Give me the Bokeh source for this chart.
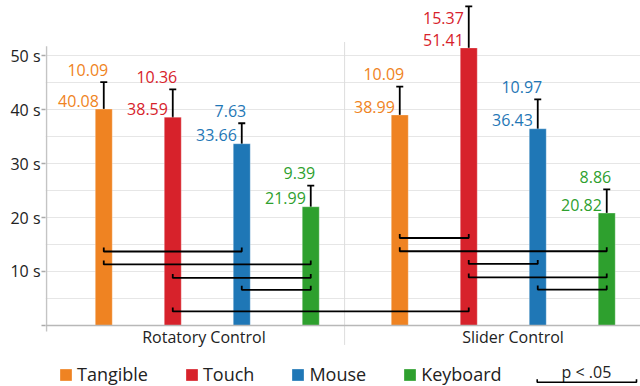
from bokeh.plotting import figure
from bokeh.models import (Range1d, FixedTicker, CustomJSTickFormatter, ColumnDataSource,
                          Whisker, TeeHead, Legend, LegendItem)
from bokeh.core.properties import value
from bokeh.embed import file_html
from bokeh.resources import INLINE

# ---- data -------------------------------------------------------------
groups = ["Rotatory Control", "Slider Control"]
devices = ["Tangible", "Touch", "Mouse", "Keyboard"]
colors = ["#EF8322", "#D7222B", "#1F77B6", "#2EA02E"]

mean_rotatory = [40.08, 38.59, 33.66, 21.99]
mean_slider = [38.99, 51.41, 36.43, 20.82]
sd_rotatory = [10.09, 10.36, 7.63, 9.39]
sd_slider = [10.09, 15.37, 10.97, 8.86]
# half length of each drawn error bar (seconds)
err_rotatory = [5.0, 5.15, 3.8, 3.9]
err_slider = [5.25, 7.7, 5.45, 4.4]

# significant differences (p < .05): (group, device) -> (group, device), bracket level
sig_pairs = [
    ((0, "Tangible"), (0, "Mouse"), 13.7),
    ((0, "Tangible"), (0, "Keyboard"), 11.3),
    ((0, "Touch"), (0, "Keyboard"), 8.8),
    ((0, "Mouse"), (0, "Keyboard"), 6.6),
    ((0, "Touch"), (1, "Touch"), 2.6),
    ((1, "Tangible"), (1, "Touch"), 16.2),
    ((1, "Tangible"), (1, "Keyboard"), 13.75),
    ((1, "Touch"), (1, "Mouse"), 11.4),
    ((1, "Touch"), (1, "Keyboard"), 8.9),
    ((1, "Mouse"), (1, "Keyboard"), 6.65),
]

y_label_ticks = [0, 10, 20, 30, 40, 50]
y_grid_ticks = [5, 10, 15, 20, 25, 30, 35, 40, 45, 50]

# ---- layout constants ---------------------------------------------------
BAR_STEP = 0.2331
BAR_W = 0.0574
FONT = "Open Sans"
TEXT_DARK = "#222222"


def bar_x(g, dev):
    return g + (devices.index(dev) - 1.5) * BAR_STEP


p = figure(frame_width=595, frame_height=386, output_backend="svg", toolbar_location=None,
           title=None,
           x_range=Range1d(-0.5465, 1.4637), y_range=Range1d(-11.3, 60.19),
           x_axis_location=None, min_border_left=45, min_border_right=0,
           min_border_top=0, min_border_bottom=0)
p.outline_line_color = None
p.background_fill_color = "white"
p.xgrid.visible = False
p.ygrid.ticker = FixedTicker(ticks=y_grid_ticks)
p.ygrid.grid_line_color = "#e6e6e6"
p.ygrid.grid_line_width = 1

ax = p.yaxis[0]
ax.ticker = FixedTicker(ticks=y_label_ticks)
ax.formatter = CustomJSTickFormatter(code="return tick == 0 ? '' : tick + ' s';")
ax.axis_line_color = None
ax.major_tick_in = 0
ax.major_tick_out = 4
ax.major_tick_line_color = "#aaaaaa"
ax.major_tick_line_width = 1.5
ax.minor_tick_line_color = None
ax.major_label_standoff = 1
ax.major_label_text_font = FONT
ax.major_label_text_font_size = "16px"
ax.major_label_text_color = TEXT_DARK

# axis lines and group separator
p.segment(x0=[-0.5431], y0=[-1.1], x1=[-0.5431], y1=[51.7], line_color="#c4c4c4", line_width=1.5)
p.segment(x0=[0.464], y0=[-3.6], x1=[0.464], y1=[52.5], line_color="#dddddd", line_width=1)

# ---- bars, error bars, value labels ------------------------------------
means = [mean_rotatory, mean_slider]
sds = [sd_rotatory, sd_slider]
errs = [err_rotatory, err_slider]

MEAN_LIFT = 1.55   # label centre above the bar top
SD_LIFT = 2.3      # label centre above the error bar cap
STACK_GAP = 3.9    # SD label stacked over the mean label

legend_items = []
for i, dev in enumerate(devices):
    xs = [bar_x(g, dev) for g in range(len(groups))]
    m = [means[g][i] for g in range(len(groups))]
    e = [errs[g][i] for g in range(len(groups))]
    sd = [sds[g][i] for g in range(len(groups))]
    src = ColumnDataSource(dict(x=xs, top=m, lower=[a - b for a, b in zip(m, e)],
                                upper=[a + b for a, b in zip(m, e)]))
    r = p.vbar(x="x", top="top", bottom=0, width=BAR_W, source=src,
               fill_color=colors[i], line_color="white", line_alpha=0.3, line_width=1)
    legend_items.append(LegendItem(label=dev, renderers=[r]))

    p.add_layout(Whisker(base="x", lower="lower", upper="upper", source=src,
                         line_color="black", line_width=1.8,
                         upper_head=TeeHead(size=7, line_color="black", line_width=1.8),
                         lower_head=TeeHead(size=7, line_color="black", line_width=1.8)))

    # mean label sits left of the error bar, just above the bar top
    p.text(x=[x - 0.0165 for x in xs], y=[v + MEAN_LIFT for v in m],
           text=[f"{v:.2f}" for v in m], text_align="right", text_baseline="middle",
           text_font=value(FONT), text_font_size="16px", text_color=colors[i])

    # SD label above the error bar, or stacked over the mean label when near the top
    sx, sy = [], []
    for x, v, up in zip(xs, m, src.data["upper"]):
        if up + SD_LIFT > 58:
            sx.append(x - 0.0165)
            sy.append(v + MEAN_LIFT + STACK_GAP)
        else:
            sx.append(x + 0.0152)
            sy.append(up + SD_LIFT)
    p.text(x=sx, y=sy, text=[f"{v:.2f}" for v in sd], text_align="right",
           text_baseline="middle", text_font=value(FONT), text_font_size="16px",
           text_color=colors[i])

# x axis line drawn over the bar bases
p.segment(x0=[-0.5465], y0=[0], x1=[1.4637], y1=[0], line_color="#b8b8b8", line_width=1.5)

# ---- significance brackets ----------------------------------------------
TICK_H = 0.75
bx, by = [], []
for (g0, d0), (g1, d1), lvl in sig_pairs:
    x0, x1 = bar_x(g0, d0), bar_x(g1, d1)
    bx.append([x0, x0, x1, x1])
    by.append([lvl + TICK_H, lvl, lvl, lvl + TICK_H])
p.multi_line(xs=bx, ys=by, line_color="black", line_width=1.8)

# ---- category labels ----------------------------------------------------
p.text(x=[-0.011, 1.033], y=[-2.22, -2.22], text=groups, text_align="center",
       text_baseline="middle", text_font=value(FONT), text_font_size="16px",
       text_color=TEXT_DARK)

# ---- legend ------------------------------------------------------------
legend = Legend(items=legend_items, orientation="horizontal", location=(13, 0),
                glyph_width=15, glyph_height=15, label_standoff=4, spacing=36,
                padding=0, margin=0, border_line_color=None, background_fill_alpha=0,
                label_text_font=FONT, label_text_font_size="18px",
                label_text_color=TEXT_DARK)
p.add_layout(legend)

# p < .05 key
p.text(x=[1.281], y=[-8.55], text=["p < .05"], text_align="center",
       text_baseline="middle", text_font=value(FONT), text_font_size="16px",
       text_color=TEXT_DARK)
p.multi_line(xs=[[1.1147, 1.1147, 1.4502, 1.4502]], ys=[[-9.95, -10.5, -10.5, -9.95]],
             line_color="black", line_width=1.6)

open("out.html", "w").write(file_html(p, INLINE))
